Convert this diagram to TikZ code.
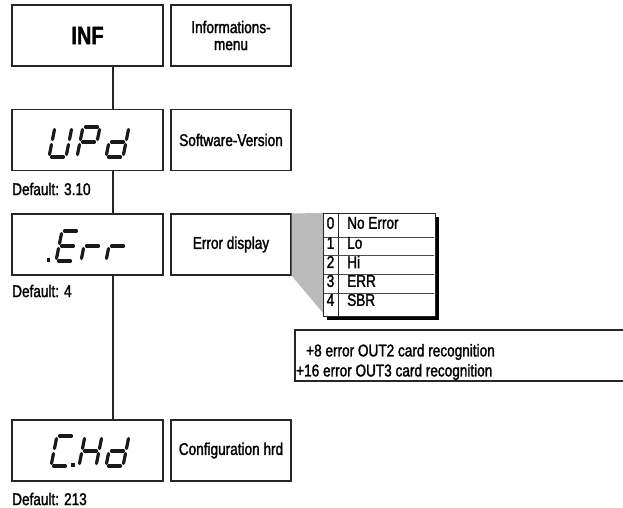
\documentclass[tikz,border=0pt]{standalone}
\usepackage{fontspec}
\setmainfont{Liberation Sans}[FakeStretch=0.8, FakeBold=1.6, BoldFeatures={FakeStretch=0.8}]
\newcommand\segA{\draw[seg] (2.5,-30) -- (14.5,-30);}
\newcommand\segB{\draw[seg] (17,-27.5) -- (17,-17.5);}
\newcommand\segC{\draw[seg] (17,-12.5) -- (17,-2.5);}
\newcommand\segD{\draw[seg] (2.5,0) -- (14.5,0);}
\newcommand\segE{\draw[seg] (0,-2.5) -- (0,-12.5);}
\newcommand\segF{\draw[seg] (0,-17.5) -- (0,-27.5);}
\newcommand\segG{\draw[seg] (2.5,-15) -- (14.5,-15);}
\newcommand\sseg[3]{\begin{scope}[shift={(#1,#2)},xslant=0.2]\foreach \s in {#3}{\csname seg\s\endcsname}\end{scope}}
\begin{document}
\begin{tikzpicture}[x=1pt,y=-1pt,
  box/.style={draw=black!85, line width=1.1pt, inner sep=0pt, minimum height=61pt, align=center},
  lbox/.style={box, minimum width=151pt},
  rbox/.style={box, minimum width=120pt, font=\fontsize{17}{17}\selectfont},
  conn/.style={line width=2.4pt, black!85},
  seg/.style={line width=3.2pt, line cap=round, black!90},
  txt/.style={font=\fontsize{17}{20}\selectfont, inner sep=0pt},
  tabtxt/.style={font=\fontsize{17}{20}\selectfont, inner sep=0pt},
  dot/.style={fill=black!90}]
\useasboundingbox (0,0) rectangle (623,508);
% spine
\coordinate (sp) at (113,0);
% left column
\node[lbox, font=\fontsize{25}{25}\selectfont\bfseries] (INF) at (87.5,35.5) {INF};
\node[lbox] (UPd) at (87.5,140) {};
\node[lbox] (Err) at (87.5,244.5) {};
\node[lbox] (CHd) at (87.5,450.5) {};
% right column
\node[rbox] (m1) at (231,35.5) {\fontsize{17}{17}\selectfont Informations-\\menu};
\node[rbox] (m2) at (231,140) {Software-Version};
\node[rbox] (m3) at (231,244.5) {Error display};
\node[rbox] (m4) at (231,450.5) {Configuration hrd};
% connectors
\draw[conn] (sp |- INF.south) -- (sp |- UPd.north);
\draw[conn] (sp |- UPd.south) -- (sp |- Err.north);
\draw[conn] (sp |- Err.south) -- (sp |- CHd.north);
% seven segment: UPd
\sseg{49}{157}{B,C,D,E,F}
\sseg{77}{157}{A,B,E,F,G}
\sseg{106}{157}{B,C,D,E,G}
% .Err
\fill[dot] (46.5,258) rectangle (50,261.5);
\sseg{56}{261}{A,D,E,F,G}
\sseg{81}{261}{E,G}
\sseg{106}{261}{E,G}
% C.Hd
\sseg{51}{466}{A,D,E,F}
\fill[dot] (71,463) rectangle (74.5,466.5);
\sseg{79}{466}{B,C,E,F,G}
\sseg{106}{466}{B,C,D,E,G}
% defaults
\node[txt, anchor=west] (d1) at (12,189) {Default: 3.10};
\node[txt, anchor=west] (d2) at (12,291) {Default: 4};
\node[txt, anchor=west] (d3) at (12,499) {Default: 213};
% callout wedge
\fill[black!27] (m3.north east) -- (323,213) -- (323,313) -- (m3.south east) -- cycle;
% table
\fill[black] (327,217) rectangle (439,320);
\filldraw[fill=white, draw=black!85, line width=1pt] (323,213) rectangle (435,316);
\draw[black!85, line width=0.9pt] (338,213) -- (338,316);
\foreach \yy in {237,255,274,293} \draw[black!70, line width=1pt] (324,\yy) -- (434,\yy);
\node[tabtxt] (n0) at (330.5,223) {0};
\node[tabtxt] (n1) at (330.5,243) {1};
\node[tabtxt] (n2) at (330.5,262) {2};
\node[tabtxt] (n3) at (330.5,281) {3};
\node[tabtxt] (n4) at (330.5,300) {4};
\node[tabtxt, anchor=west] (t0) at (347,223) {No Error};
\node[tabtxt, anchor=west] (t1) at (347,243) {Lo};
\node[tabtxt, anchor=west] (t2) at (347,262) {Hi};
\node[tabtxt, anchor=west] (t3) at (347,281) {ERR};
\node[tabtxt, anchor=west] (t4) at (347,300) {SBR};
% note box
\draw[black!85, line width=1.1pt] (624,330) -- (295,330) -- (295,381) -- (624,381);
\node[txt, anchor=west, align=left] (note) at (296,362) {\hspace{10pt}+8 error OUT2 card recognition\\+16 error OUT3 card recognition};
\end{tikzpicture}
\end{document}
